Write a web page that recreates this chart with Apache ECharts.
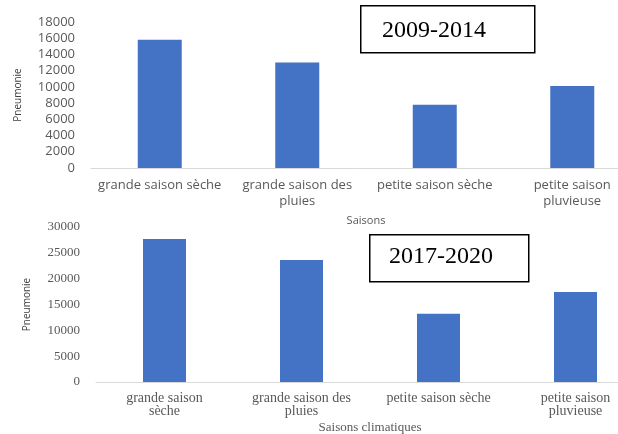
<!DOCTYPE html>
<html>
<head>
<meta charset="utf-8">
<script src="https://cdn.jsdelivr.net/npm/echarts@6/dist/echarts.min.js"></script>
<style>
html,body{margin:0;padding:0;background:#fff;overflow:hidden;}
#chart{width:618px;height:434px;}
</style>
</head>
<body>
<div id="chart"></div>
<script>
// Top panel (2009-2014)
var topCategories = ["grande saison sèche", "grande saison des\npluies", "petite saison sèche", "petite saison\npluvieuse"];
var topValues = [15800, 13000, 7800, 10100];
var topYTicks = {min: 0, max: 18000, interval: 2000};
var topPeriod = "2009-2014";

// Bottom panel (2017-2020)
var bottomCategories = ["grande saison\nsèche", "grande saison des\npluies", "petite saison sèche", "petite saison\npluvieuse"];
var bottomValues = [27700, 23600, 13200, 17400];
var bottomYTicks = {min: 0, max: 30000, interval: 5000};
var bottomPeriod = "2017-2020";

var yName = "Pneumonie";
var topXName = "Saisons";
var bottomXName = "Saisons climatiques";

var barColor = "#4472C4";
var sans = "Open Sans";
var serif = "Liberation Serif";
var plain = function (v) { return String(v); };

var chart = echarts.init(document.getElementById('chart'), null, {renderer: 'canvas'});
chart.setOption({
  animation: false,
  backgroundColor: '#ffffff',
  grid: [
    {left: 91, top: 22, width: 550, height: 146, outerBoundsMode: 'none'},
    {left: 96, top: 227, width: 548, height: 155, outerBoundsMode: 'none'}
  ],
  xAxis: [
    {
      gridIndex: 0, type: 'category', data: topCategories,
      axisLine: {lineStyle: {color: '#d9d9d9'}}, axisTick: {show: false},
      axisLabel: {color: '#595959', fontFamily: sans, fontSize: 13, lineHeight: 16, margin: 9, interval: 0},
      name: topXName, nameLocation: 'middle', nameGap: 47,
      nameTextStyle: {color: '#595959', fontFamily: sans, fontSize: 11}
    },
    {
      gridIndex: 1, type: 'category', data: bottomCategories,
      axisLine: {lineStyle: {color: '#d9d9d9'}}, axisTick: {show: false},
      axisLabel: {color: '#595959', fontFamily: serif, fontSize: 14, lineHeight: 13, margin: 10, interval: 0},
      name: bottomXName, nameLocation: 'middle', nameGap: 39,
      nameTextStyle: {color: '#595959', fontFamily: serif, fontSize: 13}
    }
  ],
  yAxis: [
    {
      gridIndex: 0, type: 'value', min: topYTicks.min, max: topYTicks.max, interval: topYTicks.interval,
      axisLine: {show: false}, axisTick: {show: false}, splitLine: {show: false},
      axisLabel: {color: '#595959', fontFamily: sans, fontSize: 13, margin: 16, formatter: plain},
      name: yName, nameLocation: 'middle', nameGap: 68, nameRotate: 90,
      nameTextStyle: {color: '#404040', fontFamily: sans, fontSize: 10}
    },
    {
      gridIndex: 1, type: 'value', min: bottomYTicks.min, max: bottomYTicks.max, interval: bottomYTicks.interval,
      axisLine: {show: false}, axisTick: {show: false}, splitLine: {show: false},
      axisLabel: {color: '#595959', fontFamily: serif, fontSize: 13, margin: 16, formatter: plain},
      name: yName, nameLocation: 'middle', nameGap: 64, nameRotate: 90,
      nameTextStyle: {color: '#404040', fontFamily: sans, fontSize: 10}
    }
  ],
  series: [
    {type: 'bar', xAxisIndex: 0, yAxisIndex: 0, data: topValues, barWidth: 44, itemStyle: {color: barColor}},
    {type: 'bar', xAxisIndex: 1, yAxisIndex: 1, data: bottomValues, barWidth: 43, itemStyle: {color: barColor}}
  ],
  graphic: [
    {type: 'rect', left: 360, top: 5, shape: {width: 174, height: 47}, style: {fill: '#fff', stroke: '#000', lineWidth: 1.5}},
    {type: 'text', left: 382, top: 19, style: {text: topPeriod, font: '24px "Liberation Serif"', fill: '#000'}},
    {type: 'rect', left: 369, top: 234, shape: {width: 159, height: 47}, style: {fill: '#fff', stroke: '#000', lineWidth: 1.5}},
    {type: 'text', left: 389, top: 245, style: {text: bottomPeriod, font: '24px "Liberation Serif"', fill: '#000'}}
  ]
});
</script>
</body>
</html>
